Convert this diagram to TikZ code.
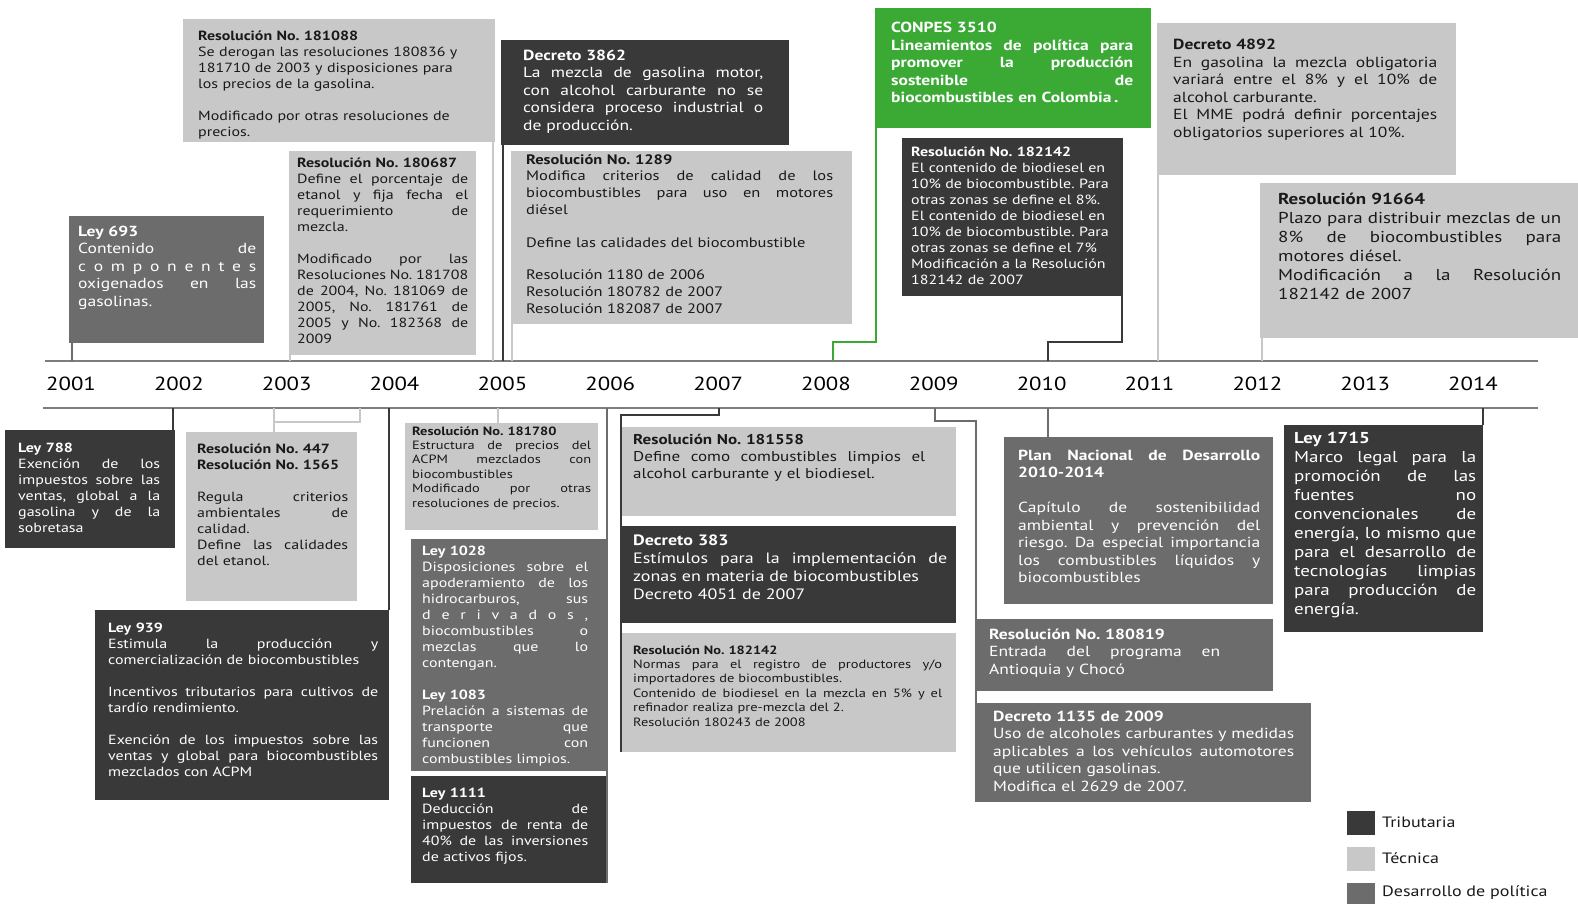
\documentclass[tikz,border=0pt]{standalone}
\usepackage{fontspec}
\setmainfont{PT Sans}[FakeStretch=1.2]
\definecolor{cdark}{RGB}{57,57,57}
\definecolor{cmed}{RGB}{108,108,108}
\definecolor{clight}{RGB}{200,200,200}
\definecolor{cgreen}{RGB}{58,170,53}
\definecolor{caxis}{RGB}{125,125,125}
\definecolor{ctext}{RGB}{25,25,25}
\newcommand\J[1]{\leavevmode\hbox to\linewidth{\spaceskip=0pt\xspaceskip=0pt #1}}
\newcommand\BX[6]{\node[#2,anchor=north west,minimum width={(#5-#3)*1pt},minimum height={(#6-#4)*1pt}] (#1) at (#3,#4) {};}
\newcommand\TX[6]{\node[#2,anchor=base west,text width=#5pt] (#1) at (#3,#4) {#6};}
\tikzset{
  dark/.style={fill=cdark,inner sep=0pt},
  med/.style={fill=cmed,inner sep=0pt},
  light/.style={fill=clight,inner sep=0pt},
  green/.style={fill=cgreen,inner sep=0pt},
  tw/.style={text=white,inner sep=0pt,align=left},
  tb/.style={text=ctext,inner sep=0pt,align=left},
  fA/.style={font=\fontsize{13.3}{16}\selectfont},
  fA2/.style={font=\fontsize{13.7}{16.5}\selectfont},
  fB/.style={font=\fontsize{14.6}{17.5}\selectfont},
  fC/.style={font=\fontsize{15.8}{19}\selectfont},
  fD/.style={font=\fontsize{12}{14.4}\selectfont},
  fE/.style={font=\fontsize{14.2}{17}\selectfont},
  fF/.style={font=\fontsize{15}{18}\selectfont},
  conn/.style={line width=2pt},
  axisline/.style={line width=2.5pt,draw=caxis},
  year/.style={inner sep=0pt,font=\fontsize{19}{22}\selectfont,text=black},
  legtxt/.style={inner sep=0pt,anchor=west,font=\fontsize{15}{18}\selectfont,text=ctext},
}
\begin{document}
\frenchspacing
\begin{tikzpicture}[x=1pt,y=-1pt]
\useasboundingbox (0,0) rectangle (1578,904);

% ---------- axis ----------
\coordinate (axTL) at (45,361);
\coordinate (axTR) at (1538,361);
\coordinate (axBL) at (43,408);
\coordinate (axBR) at (1538,408);
\draw[axisline] (axTL) -- (axTR);
\draw[axisline] (axBL) -- (axBR);
\foreach \yr [count=\i from 0] in {2001,2002,2003,2004,2005,2006,2007,2008,2009,2010,2011,2012,2013,2014}
  \node[year] (y\yr) at ({71+107.85*\i},384) {\yr};

% ---------- connector coordinates ----------
\coordinate (k2001) at (72,361);
\coordinate (k2003) at (290,361);
\coordinate (k181088) at (493,361);
\coordinate (k3862) at (503,361);
\coordinate (k1289) at (512,361);
\coordinate (k2008) at (833,361);
\coordinate (k2010t) at (1048,361);
\coordinate (k4892) at (1158,361);
\coordinate (k91664) at (1262,361);
\coordinate (kb788) at (173,408);
\coordinate (kb447) at (274,408);
\coordinate (kb447b) at (360,408);
\coordinate (kb939) at (389,408);
\coordinate (kb181780) at (498,408);
\coordinate (kb2006) at (607,408);
\coordinate (kb2007) at (719,408);
\coordinate (kb2009) at (935,408);
\coordinate (kb2010) at (1048,408);
\coordinate (kb2014) at (1483,408);

% ---------- boxes ----------
\BX{b693}{med}{69}{216}{264}{343}
\BX{b181088}{light}{183}{19}{495}{142}
\BX{b180687}{light}{289}{151}{476}{355}
\BX{b3862}{dark}{501}{40}{789}{145}
\BX{b1289}{light}{511}{151}{852}{324}
\BX{bconpes}{green}{875}{8}{1151}{128}
\BX{b182142a}{dark}{902}{138}{1123}{296}
\BX{b4892}{light}{1157}{23}{1456}{175}
\BX{b91664}{light}{1260}{183}{1578}{338}
\BX{b788}{dark}{5}{430}{175}{548}
\BX{b447}{light}{186}{432}{357}{601}
\BX{b939}{dark}{95}{610}{389}{800}
\BX{b181780}{light}{405}{423}{598}{530}
\BX{b1028}{med}{411}{539}{606}{771}
\BX{b1111}{dark}{411}{776}{606}{883}
\BX{b181558}{light}{622}{427}{956}{516}
\BX{b383}{dark}{622}{526}{956}{623}
\BX{b182142b}{light}{622}{633}{956}{752}
\BX{bplan}{med}{1004}{437}{1273}{604}
\BX{b180819}{med}{976}{619}{1273}{691}
\BX{b1135}{med}{976}{703}{1311}{802}
\BX{b1715}{dark}{1284}{425}{1483}{632}

% ---------- connectors ----------
\draw[conn,draw=cmed] (k2001) -- (k2001 |- b693.south);
\draw[conn,draw=clight] (k2003) -- (k2003 |- b180687.south);
\draw[conn,draw=clight] (k181088) -- (k181088 |- b181088.south);
\draw[conn,draw=cdark] (k3862) -- (k3862 |- b3862.south);
\draw[conn,draw=clight] (k1289) -- (k1289 |- b1289.south);
\draw[conn,draw=cgreen] ([xshift=1pt]bconpes.south west) -- ++(0,214) -| (k2008);
\draw[conn,draw=cdark] ([xshift=-1pt]b182142a.south east) -- ++(0,46) -| (k2010t);
\draw[conn,draw=clight] (k4892) -- (k4892 |- b4892.south);
\draw[conn,draw=clight] (k91664) -- (k91664 |- b91664.south);
\draw[conn,draw=cdark] (kb788) -- (kb788 |- b788.north);
\draw[conn,draw=clight] (kb447) -- (kb447 |- b447.north);
\draw[conn,draw=clight] (kb447) ++(0,14) -| (kb447b);
\draw[conn,draw=cdark] (kb939) -- (kb939 |- b939.north);
\draw[conn,draw=clight] (kb181780) -- (kb181780 |- b181780.north);
\draw[conn,draw=cmed] (kb2006) -- (kb2006 |- b1111.south);
\draw[conn,draw=cdark] (kb2007) -- ++(0,7) -| ([xshift=-1pt]b182142b.south west);
\draw[conn,draw=cmed] (kb2009) -- ++(0,13) -| (b1135.south west);
\draw[conn,draw=cmed] (kb2010) -- (kb2010 |- bplan.north);
\draw[conn,draw=cdark] (kb2014) -- (kb2014 |- b1715.north);

% ---------- texts (top) ----------
\TX{t693}{tw,fB}{78}{236}{178}{\textbf{Ley 693}\\ \J{Contenido de}\\ \J{c o m p o n e n t e s}\\ \J{oxigenados en las}\\ gasolinas.}
\TX{t181088}{tb,fA}{198}{40.5}{285}{\textbf{Resolución No. 181088}\\ Se derogan las resoluciones 180836 y\\ 181710 de 2003 y disposiciones para\\ los precios de la gasolina.\\ \mbox{}\\ Modificado por otras resoluciones de\\ precios.}
\TX{t180687}{tb,fA}{297}{167.5}{171}{\textbf{Resolución No. 180687}\\ \J{Define el porcentaje de}\\ \J{etanol y fija fecha el}\\ \J{requerimiento de}\\ mezcla.\\ \mbox{}\\ \J{Modificado por las}\\ \J{Resoluciones No. 181708}\\ \J{de 2004, No. 181069 de}\\ \J{2005, No. 181761 de}\\ \J{2005 y No. 182368 de}\\ 2009}
\TX{t3862}{tw,fB}{523}{60.5}{240}{\textbf{Decreto 3862}\\ \J{La mezcla de gasolina motor,}\\ \J{con alcohol carburante no se}\\ \J{considera proceso industrial o}\\ de producción.}
\TX{t1289}{tb,fA2}{526}{164.5}{307}{\textbf{Resolución No. 1289}\\ \J{Modifica criterios de calidad de los}\\ \J{biocombustibles para uso en motores}\\ diésel\\ \mbox{}\\ Define las calidades del biocombustible\\ \mbox{}\\ Resolución 1180 de 2006\\ Resolución 180782 de 2007\\ Resolución 182087 de 2007}
\TX{tconpes}{tw,fB}{891}{33}{242}{\bfseries CONPES 3510\\ \J{Lineamientos de política para}\\ \J{promover la producción}\\ \J{sostenible de}\\ biocombustibles en Colombia\,.}
\TX{t182142a}{tw,fA}{911}{156.5}{205}{\textbf{Resolución No. 182142}\\ El contenido de biodiesel en\\ 10\% de biocombustible. Para\\ otras zonas se define el 8\%.\\ El contenido de biodiesel en\\ 10\% de biocombustible. Para\\ otras zonas se define el 7\%\\ Modificación a la Resolución\\ 182142 de 2007}
\TX{t4892}{tb,fB}{1173}{50}{264}{\textbf{Decreto 4892}\\ \J{En gasolina la mezcla obligatoria}\\ \J{variará entre el 8\% y el 10\% de}\\ alcohol carburante.\\ \J{El MME podrá definir porcentajes}\\ obligatorios superiores al 10\%.}
\TX{t91664}{tb,fC}{1278}{204.5}{283}{\textbf{Resolución 91664}\\ \J{Plazo para distribuir mezclas de un}\\ \J{8\% de biocombustibles para}\\ motores diésel.\\ \J{Modificación a la Resolución}\\ 182142 de 2007}

% ---------- texts (bottom) ----------
\TX{t788}{tw,fA}{18}{452}{142}{\textbf{Ley 788}\\ \J{Exención de los}\\ \J{impuestos sobre las}\\ \J{ventas, global a la}\\ \J{gasolina y de la}\\ sobretasa}
\TX{t447}{tb,fA}{197}{453}{151}{\textbf{Resolución No. 447}\\ \textbf{Resolución No. 1565}\\ \mbox{}\\ \J{Regula criterios}\\ \J{ambientales de}\\ calidad.\\ \J{Define las calidades}\\ del etanol.}
\TX{t939}{tw,fA}{108}{632.5}{270}{\textbf{Ley 939}\\ \J{Estimula la producción y}\\ comercialización de biocombustibles\\ \mbox{}\\ \J{Incentivos tributarios para cultivos de}\\ tardío rendimiento.\\ \mbox{}\\ \J{Exención de los impuestos sobre las}\\ \J{ventas y global para biocombustibles}\\ mezclados con ACPM}
\TX{t181780}{tb,fD}{412}{435}{179}{\textbf{Resolución No. 181780}\\ \J{Estructura de precios del}\\ \J{ACPM mezclados con}\\ biocombustibles\\ \J{Modificado por otras}\\ resoluciones de precios.}
\TX{t1028}{tw,fA}{422}{555.5}{166}{\textbf{Ley 1028}\\ \J{Disposiciones sobre el}\\ \J{apoderamiento de los}\\ \J{hidrocarburos, sus}\\ \J{d e r i v a d o s ,}\\ \J{biocombustibles o}\\ \J{mezclas que lo}\\ contengan.\\ \mbox{}\\ \textbf{Ley 1083}\\ \J{Prelación a sistemas de}\\ \J{transporte que}\\ \J{funcionen con}\\ combustibles limpios.}
\TX{t1111}{tw,fA}{422}{797.5}{166}{\textbf{Ley 1111}\\ \J{Deducción de}\\ \J{impuestos de renta de}\\ \J{40\% de las inversiones}\\ de activos fijos.}
\TX{t181558}{tb,fE}{633}{444}{292}{\textbf{Resolución No. 181558}\\ \J{Define como combustibles limpios el}\\ alcohol carburante y el biodiesel.}
\TX{t383}{tw,fF}{633}{545}{314}{\textbf{Decreto 383}\\ \J{Estímulos para la implementación de}\\ zonas en materia de biocombustibles\\ Decreto 4051 de 2007}
\TX{t182142b}{tb,fD}{633}{654}{309}{\textbf{Resolución No. 182142}\\ \J{Normas para el registro de productores y/o}\\ importadores de biocombustibles.\\ \J{Contenido de biodiesel en la mezcla en 5\% y el}\\ refinador realiza pre-mezcla del 2.\\ Resolución 180243 de 2008}
\TX{tplan}{tw,fB}{1018}{460}{242}{\J{\textbf{Plan Nacional de Desarrollo}}\\ \textbf{2010-2014}\\ \mbox{}\\ \J{Capítulo de sostenibilidad}\\ \J{ambiental y prevención del}\\ \J{riesgo. Da especial importancia}\\ \J{los combustibles líquidos y}\\ biocombustibles}
\TX{t180819}{tw,fB}{989}{639}{231}{\textbf{Resolución No. 180819}\\ \J{Entrada del programa en}\\ Antioquia y Chocó}
\TX{t1135}{tw,fB}{993}{721}{301}{\textbf{Decreto 1135 de 2009}\\ \J{Uso de alcoholes carburantes y medidas}\\ \J{aplicables a los vehículos automotores}\\ que utilicen gasolinas.\\ Modifica el 2629 de 2007.}
\TX{t1715}{tw,fC}{1294}{443.5}{182}{\textbf{Ley 1715}\\ \J{Marco legal para la}\\ \J{promoción de las}\\ \J{fuentes no}\\ \J{convencionales de}\\ \J{energía, lo mismo que}\\ \J{para el desarrollo de}\\ \J{tecnologías limpias}\\ \J{para producción de}\\ energía.}

% ---------- legend ----------
\node[dark,anchor=north west,minimum width=28pt,minimum height=24pt] (lg1) at (1347,811) {};
\node[light,anchor=north west,minimum width=28pt,minimum height=24pt] (lg2) at (1347,847) {};
\node[med,anchor=north west,minimum width=28pt,minimum height=24pt] (lg3) at (1347,883) {};
\node[legtxt] (lt1) at (1382,822) {Tributaria};
\node[legtxt] (lt2) at (1382,858) {Técnica};
\node[legtxt] (lt3) at (1382,893) {Desarrollo de política};
\end{tikzpicture}
\end{document}
